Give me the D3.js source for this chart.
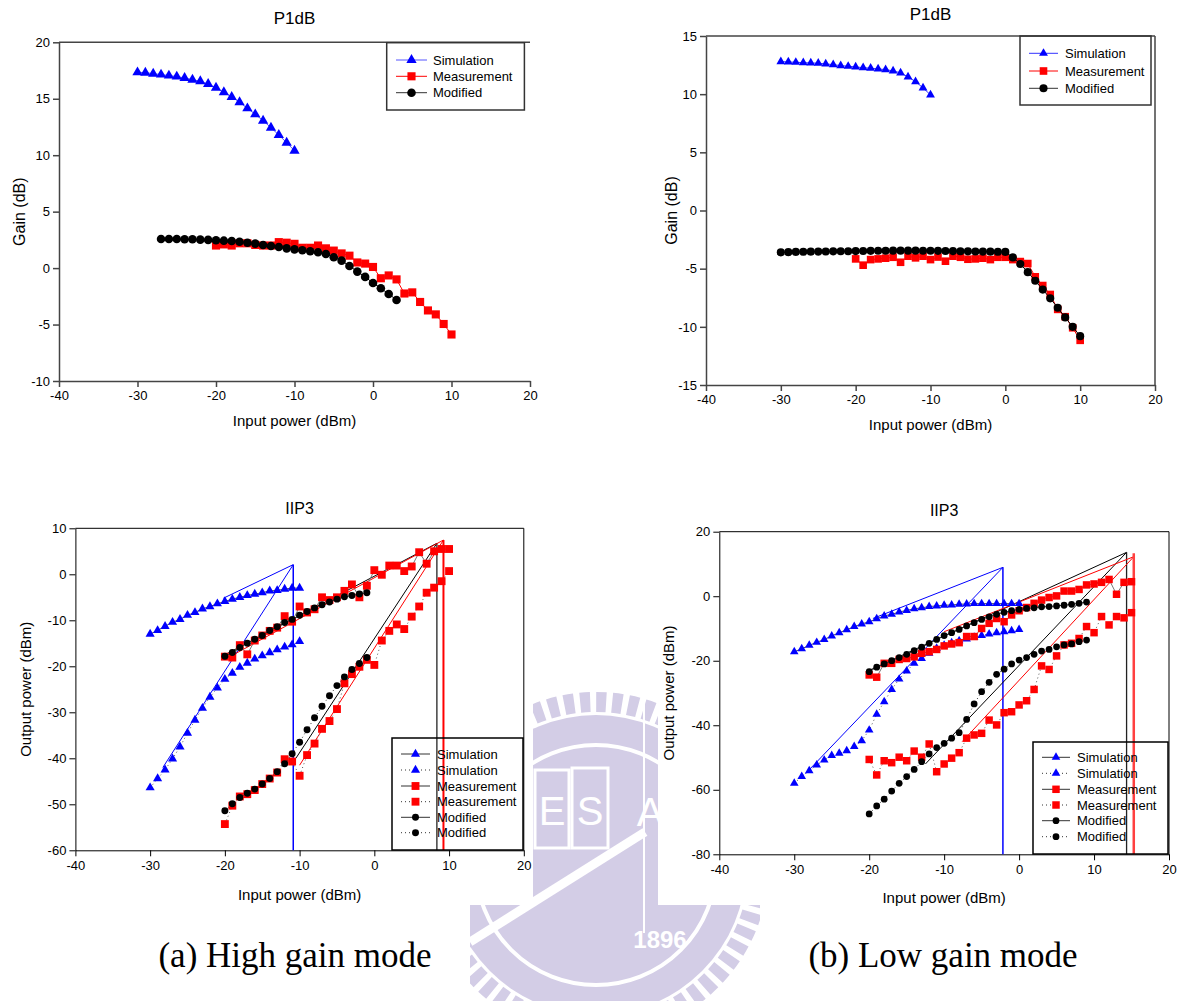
<!DOCTYPE html>
<html>
<head>
<meta charset="utf-8">
<script src="https://cdn.jsdelivr.net/npm/d3@7"></script>
<style>
  body { margin: 0; background: #fff; }
</style>
</head>
<body>
<svg id="fig" width="1183" height="1001"></svg>
<script>
// ---- tick values
var xTicks = [-40, -30, -20, -10, 0, 10, 20];
var gainTicksHigh = [-10, -5, 0, 5, 10, 15, 20];
var gainTicksLow = [-15, -10, -5, 0, 5, 10, 15];
var outTicksHigh = [-60, -50, -40, -30, -20, -10, 0, 10];
var outTicksLow = [-80, -60, -40, -20, 0, 20];

// ---- (a) high gain, P1dB : input power (dBm) / gain (dB)
var hgP1SimIn = [-30, -29, -28, -27, -26, -25, -24, -23, -22, -21, -20, -19, -18, -17, -16, -15, -14, -13, -12, -11, -10];
var hgP1SimGain = [17.34, 17.31, 17.22, 17.14, 17.05, 16.96, 16.84, 16.69, 16.55, 16.3, 15.98, 15.57, 15.16, 14.69, 14.15, 13.62, 13.06, 12.44, 11.79, 11.11, 10.4];
var hgP1MeasIn = [-20, -19, -18, -17, -16, -15, -14, -13, -12, -11, -10, -9, -8, -7, -6, -5, -4, -3, -2, -1, 0, 1, 2, 3, 4, 5, 6, 7, 8, 9, 10];
var hgP1MeasGain = [2.0, 2.1, 2.0, 2.2, 2.2, 2.05, 2.0, 2.0, 2.3, 2.25, 2.15, 1.8, 1.8, 2.0, 1.75, 1.55, 1.3, 1.1, 0.5, 0.4, 0.1, -0.9, -0.65, -1.0, -2.25, -2.15, -3.0, -3.75, -4.1, -4.95, -5.88];
var hgP1ModIn = [-27, -26, -25, -24, -23, -22, -21, -20, -19, -18, -17, -16, -15, -14, -13, -12, -11, -10, -9, -8, -7, -6, -5, -4, -3, -2, -1, 0, 1, 2, 3];
var hgP1ModGain = [2.58, 2.58, 2.58, 2.55, 2.55, 2.52, 2.5, 2.46, 2.43, 2.4, 2.34, 2.25, 2.17, 2.05, 1.96, 1.87, 1.75, 1.66, 1.58, 1.49, 1.4, 1.25, 0.96, 0.66, 0.19, -0.31, -0.78, -1.32, -1.79, -2.29, -2.82];

// ---- (b) low gain, P1dB
var lgP1SimIn = [-30, -29, -28, -27, -26, -25, -24, -23, -22, -21, -20, -19, -18, -17, -16, -15, -14, -13, -12, -11, -10];
var lgP1SimGain = [12.8, 12.77, 12.74, 12.71, 12.68, 12.66, 12.6, 12.54, 12.45, 12.4, 12.34, 12.28, 12.23, 12.17, 12.11, 12.0, 11.83, 11.48, 11.08, 10.54, 9.94];
var lgP1MeasIn = [-20, -19, -18, -17, -16, -15, -14, -13, -12, -11, -10, -9, -8, -7, -6, -5, -4, -3, -2, -1, 0, 1, 2, 3, 4, 5, 6, 7, 8, 9, 10];
var lgP1MeasGain = [-4.16, -4.7, -4.22, -4.16, -4.1, -4.02, -4.45, -3.93, -4.07, -3.93, -4.22, -4.0, -4.36, -3.93, -4.02, -4.19, -4.16, -4.1, -4.22, -4.02, -4.02, -4.22, -4.39, -4.56, -5.7, -6.45, -7.22, -8.5, -9.13, -10.08, -11.16];
var lgP1ModIn = [-30, -29, -28, -27, -26, -25, -24, -23, -22, -21, -20, -19, -18, -17, -16, -15, -14, -13, -12, -11, -10, -9, -8, -7, -6, -5, -4, -3, -2, -1, 0, 1, 2, 3, 4, 5, 6, 7, 8, 9, 10];
var lgP1ModGain = [-3.6, -3.58, -3.56, -3.55, -3.54, -3.53, -3.52, -3.51, -3.5, -3.5, -3.49, -3.48, -3.47, -3.46, -3.46, -3.45, -3.45, -3.45, -3.45, -3.46, -3.46, -3.47, -3.48, -3.49, -3.5, -3.51, -3.52, -3.53, -3.54, -3.55, -3.56, -4.03, -4.6, -5.3, -6.04, -6.8, -7.55, -8.36, -9.19, -10.0, -10.8];

// ---- (a) high gain, IIP3 : input power / output power (dBm), fundamental and IM3
var hgIpSimIn = [-30, -29, -28, -27, -26, -25, -24, -23, -22, -21, -20, -19, -18, -17, -16, -15, -14, -13, -12, -11, -10];
var hgIpSimFund = [-13.0, -12.2, -11.3, -10.4, -9.8, -8.9, -8.3, -7.5, -7.0, -6.4, -5.9, -5.4, -5.0, -4.6, -4.3, -4.0, -3.6, -3.5, -3.2, -3.0, -3.0];
var hgIpSimIm3 = [-46.4, -44.4, -42.5, -40.1, -37.5, -34.5, -31.7, -29.1, -26.7, -24.7, -22.8, -21.5, -20.2, -19.3, -18.4, -17.7, -17.0, -16.4, -15.8, -15.3, -14.6];
var hgIpMeasIn = [-20, -19, -18, -17, -16, -15, -14, -13, -12, -11, -10, -9, -8, -7, -6, -5, -4, -3, -2, -1, 0, 1, 2, 3, 4, 5, 6, 7, 8, 9, 10];
var hgIpMeasFund = [-17.9, -18.1, -15.4, -17.4, -14.4, -13.3, -12.3, -11.6, -9.1, -10.3, -7.0, -8.3, -7.6, -5.0, -5.6, -5.0, -3.6, -2.2, -5.0, -2.5, 0.9, -0.1, 1.9, 1.9, 0.7, 1.7, 4.8, 2.3, 5.0, 5.5, 5.5];
var hgIpMeasIm3 = [-54.3, -50.3, -48.3, -47.8, -46.9, -45.6, -44.4, -43.1, -40.2, -40.7, -43.8, -39.3, -36.8, -33.6, -31.9, -29.3, -23.7, -21.7, -20.1, -18.6, -19.7, -14.4, -12.3, -10.9, -11.9, -9.2, -7.0, -4.0, -2.9, -1.5, 0.7];
var hgIpModIn = [-20, -19, -18, -17, -16, -15, -14, -13, -12, -11, -10, -9, -8, -7, -6, -5, -4, -3, -2, -1];
var hgIpModFund = [-17.8, -17.0, -15.9, -15.0, -14.1, -13.3, -12.2, -11.4, -10.5, -9.8, -8.9, -8.1, -7.3, -6.6, -6.0, -5.4, -4.9, -4.6, -4.3, -4.0];
var hgIpModIm3 = [-51.4, -49.9, -48.5, -47.6, -46.7, -45.6, -44.4, -42.9, -41.2, -39.0, -36.5, -33.8, -31.2, -28.7, -26.4, -24.2, -22.3, -20.7, -19.4, -18.1];
// extrapolated lines and intercept points
var hgSimFundFit = [[-20.2, -5.2], [-10.85, 2.1]];
var hgSimIm3Fit = [[-28.3, -42.0], [-10.85, 2.1]];
var hgSimIip3 = [[-10.85, 2.1], [-10.85, -60]];
var hgModFundFit = [[-20, -17.5], [8.37, 6.74]];
var hgModIm3Fit = [[-10.5, -40], [8.37, 6.74]];
var hgModIip3 = [[8.37, 6.74], [8.37, -60]];
var hgMeasFundFit = [[-20, -18.5], [9.25, 7.45]];
var hgMeasIm3Fit = [[-10, -41.5], [9.25, 7.45]];
var hgMeasIip3 = [[9.25, 7.45], [9.25, -60]];

// ---- (b) low gain, IIP3
var lgIpSimIn = [-30, -29, -28, -27, -26, -25, -24, -23, -22, -21, -20, -19, -18, -17, -16, -15, -14, -13, -12, -11, -10, -9, -8, -7, -6, -5, -4, -3, -2, -1, 0];
var lgIpSimFund = [-17.2, -16.3, -15.2, -14.3, -13.4, -12.3, -11.3, -10.4, -9.4, -8.6, -7.9, -7.0, -6.1, -5.6, -4.9, -4.4, -3.9, -3.6, -3.2, -3.0, -2.8, -2.7, -2.5, -2.4, -2.3, -2.3, -2.3, -2.3, -2.3, -2.3, -2.3];
var lgIpSimIm3 = [-58.0, -55.9, -54.1, -52.3, -50.8, -49.4, -48.7, -47.9, -46.6, -44.8, -41.5, -36.6, -32.7, -28.9, -25.7, -23.2, -20.8, -19.3, -17.7, -16.1, -15.2, -14.4, -13.8, -13.3, -12.7, -12.2, -11.7, -11.3, -11.0, -10.7, -10.3];
var lgIpMeasIn = [-20, -19, -18, -17, -16, -15, -14, -13, -12, -11, -10, -9, -8, -7, -6, -5, -4, -3, -2, -1, 0, 1, 2, 3, 4, 5, 6, 7, 8, 9, 10, 11, 12, 13, 14, 15];
var lgIpMeasFund = [-24.4, -25.1, -20.8, -20.8, -19.6, -19.3, -18.8, -17.7, -17.2, -16.5, -15.4, -14.8, -14.4, -12.5, -12.5, -10.0, -8.4, -6.9, -7.9, -5.8, -4.5, -3.5, -2.2, -1.2, -0.4, 0.1, 1.6, 1.6, 2.1, 3.5, 3.8, 4.3, 5.2, 0.6, 4.3, 4.5];
var lgIpMeasIm3 = [-50.6, -55.4, -51.0, -51.6, -49.9, -51.0, -48.0, -49.9, -45.8, -54.4, -52.0, -50.2, -48.5, -44.0, -43.0, -42.5, -38.4, -39.9, -36.1, -35.8, -33.7, -32.4, -28.9, -21.6, -22.7, -18.5, -15.1, -14.6, -13.1, -9.4, -11.3, -6.3, -8.9, -6.3, -6.7, -5.1];
var lgIpModIn = [-20, -19, -18, -17, -16, -15, -14, -13, -12, -11, -10, -9, -8, -7, -6, -5, -4, -3, -2, -1, 0, 1, 2, 3, 4, 5, 6, 7, 8, 9];
var lgIpModFund = [-23.4, -22.0, -21.0, -20.0, -19.0, -18.0, -16.9, -15.8, -14.6, -13.4, -12.2, -11.3, -10.3, -9.2, -8.2, -7.2, -6.4, -5.6, -5.0, -4.5, -4.1, -3.8, -3.6, -3.3, -3.2, -3.0, -2.8, -2.5, -2.2, -1.8];
var lgIpModIm3 = [-67.5, -65.0, -62.9, -60.4, -58.0, -55.9, -53.7, -51.3, -48.9, -46.9, -45.6, -44.0, -42.3, -38.2, -33.4, -29.6, -26.7, -24.2, -22.6, -21.0, -19.8, -19.0, -18.0, -17.0, -16.5, -15.7, -15.1, -14.8, -14.1, -13.6];
var lgSimFundFit = [[-19.5, -6.9], [-2.16, 8.95]];
var lgSimIm3Fit = [[-28.5, -55], [-2.16, 8.95]];
var lgSimIip3 = [[-2.16, 8.95], [-2.16, -80]];
var lgModFundFit = [[-20, -23.0], [14.34, 13.6]];
var lgModIm3Fit = [[-12.5, -52], [14.34, 13.6]];
var lgModIip3 = [[14.34, 13.6], [14.34, -80]];
var lgMeasFundFit = [[-10, -11], [15.3, 12.25]];
var lgMeasIm3Fit = [[-7.6, -45.1], [15.3, 12.25]];
var lgMeasIip3 = [[15.3, 13.3], [15.3, -80]];

var seriesNames = ['Simulation', 'Measurement', 'Modified'];
var captions = ['(a) High gain mode', '(b) Low gain mode'];

var FONT = '"Liberation Sans", Arial, sans-serif';
var BLUE = '#0000ff', RED = '#ff0000', BLACK = '#000000';
var svg = d3.select('#fig');

// faint watermark logo behind the plots, only showing in the gaps
function drawWatermark() {
  var lav = '#d3cde6';
  var clip = svg.append('defs').append('clipPath').attr('id', 'wmclip');
  clip.append('rect').attr('x', 533).attr('y', 680).attr('width', 125).attr('height', 230);
  clip.append('rect').attr('x', 470).attr('y', 905).attr('width', 290).attr('height', 96);

  var wm = svg.append('g').attr('clip-path', 'url(#wmclip)');
  wm.append('circle').attr('cx', 596).attr('cy', 865).attr('r', 150).attr('fill', lav);
  wm.append('circle').attr('cx', 596).attr('cy', 865).attr('r', 163)
    .attr('fill', 'none').attr('stroke', lav).attr('stroke-width', 20)
    .attr('stroke-dasharray', '10 6');
  wm.append('circle').attr('cx', 596).attr('cy', 865).attr('r', 120)
    .attr('fill', 'none').attr('stroke', '#fff').attr('stroke-width', 4);
  wm.append('rect').attr('x', 535).attr('y', 770).attr('width', 34).attr('height', 78)
    .attr('fill', 'none').attr('stroke', '#fff').attr('stroke-width', 3);
  wm.append('rect').attr('x', 572).attr('y', 768).attr('width', 36).attr('height', 80)
    .attr('fill', 'none').attr('stroke', '#fff').attr('stroke-width', 3);
  wm.selectAll('text.wm').data([['E', 552, 825], ['S', 590, 825], ['A', 650, 826]])
    .enter().append('text')
      .attr('x', function (d) { return d[1]; })
      .attr('y', function (d) { return d[2]; })
      .attr('text-anchor', 'middle')
      .attr('font-family', FONT).attr('font-size', 40)
      .attr('fill', '#fff')
      .text(function (d) { return d[0]; });
  wm.append('line').attr('x1', 470).attr('y1', 942).attr('x2', 645).attr('y2', 832)
    .attr('stroke', '#fff').attr('stroke-width', 9);
  wm.append('line').attr('x1', 644).attr('y1', 700).attr('x2', 644).attr('y2', 933)
    .attr('stroke', '#fff').attr('stroke-width', 2);
  wm.append('text').attr('x', 660).attr('y', 948).attr('text-anchor', 'middle')
    .attr('font-family', FONT).attr('font-weight', 'bold').attr('font-size', 24)
    .attr('fill', '#fff').text('1896');
}

function makePanel(opt) {
  var x = d3.scaleLinear().domain([-40, 20]).range([opt.left, opt.right]);
  var y = d3.scaleLinear().domain(d3.extent(opt.yTicks)).range([opt.bottom, opt.top]);
  var g = svg.append('g');
  var fmt = function (d) { return String(d); };

  g.append('rect')
    .attr('x', opt.left).attr('y', opt.top)
    .attr('width', opt.right - opt.left).attr('height', opt.bottom - opt.top)
    .attr('fill', '#fff');

  g.append('line')
    .attr('x1', opt.left).attr('x2', opt.right).attr('y1', opt.top).attr('y2', opt.top)
    .attr('stroke', opt.axisColor).attr('stroke-width', opt.axisWidth);
  if (opt.rightLine) {
    g.append('line')
      .attr('x1', opt.right).attr('x2', opt.right).attr('y1', opt.top).attr('y2', opt.bottom)
      .attr('stroke', opt.axisColor).attr('stroke-width', opt.axisWidth);
  }

  var ax = g.append('g')
    .attr('transform', 'translate(0,' + opt.bottom + ')')
    .call(d3.axisBottom(x).tickValues(xTicks).tickFormat(fmt).tickSize(6).tickSizeOuter(0).tickPadding(4));
  var ay = g.append('g')
    .attr('transform', 'translate(' + opt.left + ',0)')
    .call(d3.axisLeft(y).tickValues(opt.yTicks).tickFormat(fmt).tickSize(6).tickSizeOuter(0).tickPadding(3));

  [ax, ay].forEach(function (a) {
    a.attr('font-family', FONT).attr('font-size', 13);
    a.selectAll('path, line').attr('stroke', opt.axisColor).attr('stroke-width', opt.axisWidth);
    a.selectAll('text').attr('fill', '#000');
  });

  g.append('text')
    .attr('x', (opt.left + opt.right) / 2).attr('y', opt.titleY).attr('dy', '0.35em')
    .attr('text-anchor', 'middle').attr('font-family', FONT).attr('font-size', opt.titleSize)
    .text(opt.title);
  g.append('text')
    .attr('x', (opt.left + opt.right) / 2).attr('y', opt.xLabelY).attr('dy', '0.35em')
    .attr('text-anchor', 'middle').attr('font-family', FONT).attr('font-size', 15)
    .text('Input power (dBm)');
  g.append('text')
    .attr('transform', 'translate(' + opt.yLabelX + ',' + ((opt.top + opt.bottom) / 2) + ') rotate(-90)')
    .attr('dy', '0.35em')
    .attr('text-anchor', 'middle').attr('font-family', FONT).attr('font-size', opt.yLabelSize)
    .text(opt.yLabel);

  return { g: g, x: x, y: y };
}

function drawLine(p, pts, color, width, dash) {
  p.g.append('path')
    .datum(pts)
    .attr('d', d3.line().x(function (d) { return p.x(d[0]); }).y(function (d) { return p.y(d[1]); }))
    .attr('fill', 'none')
    .attr('stroke', color)
    .attr('stroke-width', width)
    .attr('stroke-dasharray', dash || null);
}

function drawSeries(p, xs, ys, markColor, lineColor, dash, symbol, size) {
  var pts = xs.map(function (d, i) { return [d, ys[i]]; });
  drawLine(p, pts, lineColor, 1, dash);
  p.g.append('g').selectAll('path')
    .data(pts)
    .enter().append('path')
      .attr('transform', function (d) { return 'translate(' + p.x(d[0]) + ',' + p.y(d[1]) + ')'; })
      .attr('d', d3.symbol().type(symbol).size(size))
      .attr('fill', markColor);
}

function drawLegend(p, box, rows, lineX, textX, entries, boxColor) {
  var g = p.g.append('g');
  g.append('rect')
    .attr('x', box[0]).attr('y', box[1])
    .attr('width', box[2] - box[0]).attr('height', box[3] - box[1])
    .attr('fill', 'none').attr('stroke', boxColor).attr('stroke-width', 1.5);
  entries.forEach(function (e, i) {
    g.append('line')
      .attr('x1', lineX[0]).attr('x2', lineX[1]).attr('y1', rows[i]).attr('y2', rows[i])
      .attr('stroke', e.line).attr('stroke-width', 1)
      .attr('stroke-dasharray', e.dash || null);
    g.append('path')
      .attr('transform', 'translate(' + ((lineX[0] + lineX[1]) / 2) + ',' + rows[i] + ')')
      .attr('d', d3.symbol().type(e.symbol).size(e.size))
      .attr('fill', e.color);
    g.append('text')
      .attr('x', textX).attr('y', rows[i]).attr('dy', '0.35em')
      .attr('font-family', FONT).attr('font-size', 13)
      .text(e.label);
  });
}

drawWatermark();

// ---- panel (a) P1dB
var pA = makePanel({ left: 59, right: 530, top: 42.3, bottom: 381, yTicks: gainTicksHigh,
  title: 'P1dB', titleY: 18, titleSize: 17, yLabel: 'Gain (dB)', yLabelX: 19, yLabelSize: 16,
  xLabelY: 421, rightLine: false, axisColor: '#444', axisWidth: 1.5 });
drawSeries(pA, hgP1SimIn, hgP1SimGain, BLUE, '#5555ff', null, d3.symbolTriangle, 46);
drawSeries(pA, hgP1MeasIn, hgP1MeasGain, RED, RED, null, d3.symbolSquare, 66);
drawSeries(pA, hgP1ModIn, hgP1ModGain, BLACK, BLACK, null, d3.symbolCircle, 58);
drawLegend(pA, [386.7, 42.7, 524.4, 110], [60, 76.3, 92.7], [396, 427], 433, [
  { label: seriesNames[0], color: BLUE, line: '#5555ff', symbol: d3.symbolTriangle, size: 46 },
  { label: seriesNames[1], color: RED, line: RED, symbol: d3.symbolSquare, size: 66 },
  { label: seriesNames[2], color: BLACK, line: '#333', symbol: d3.symbolCircle, size: 58 }
], '#333');

// ---- panel (b) P1dB
var pB = makePanel({ left: 706, right: 1155, top: 36, bottom: 385, yTicks: gainTicksLow,
  title: 'P1dB', titleY: 14, titleSize: 17, yLabel: 'Gain (dB)', yLabelX: 671, yLabelSize: 16,
  xLabelY: 425, rightLine: true, axisColor: '#444', axisWidth: 1.5 });
drawSeries(pB, lgP1SimIn, lgP1SimGain, BLUE, '#3333ff', null, d3.symbolTriangle, 34);
drawSeries(pB, lgP1MeasIn, lgP1MeasGain, RED, RED, null, d3.symbolSquare, 58);
drawSeries(pB, lgP1ModIn, lgP1ModGain, BLACK, BLACK, null, d3.symbolCircle, 52);
drawLegend(pB, [1020, 36, 1151, 105], [53.3, 71, 88.3], [1029, 1058], 1065, [
  { label: seriesNames[0], color: BLUE, line: '#3333ff', symbol: d3.symbolTriangle, size: 34 },
  { label: seriesNames[1], color: RED, line: RED, symbol: d3.symbolSquare, size: 58 },
  { label: seriesNames[2], color: BLACK, line: '#333', symbol: d3.symbolCircle, size: 52 }
], '#333');

// ---- panel (a) IIP3
var pC = makePanel({ left: 75.4, right: 523.8, top: 528.3, bottom: 850.3, yTicks: outTicksHigh,
  title: 'IIP3', titleY: 508, titleSize: 16, yLabel: 'Output power (dBm)', yLabelX: 26, yLabelSize: 15,
  xLabelY: 895, rightLine: true, axisColor: '#000', axisWidth: 1 });
drawLine(pC, hgSimFundFit, BLUE, 1);
drawLine(pC, hgSimIm3Fit, BLUE, 1);
drawLine(pC, hgSimIip3, BLUE, 1.5);
drawLine(pC, hgModFundFit, BLACK, 1);
drawLine(pC, hgModIm3Fit, BLACK, 1);
drawLine(pC, hgModIip3, '#222', 1.3);
drawLine(pC, hgMeasFundFit, RED, 1);
drawLine(pC, hgMeasIm3Fit, RED, 1);
drawLine(pC, hgMeasIip3, RED, 2);
drawSeries(pC, hgIpSimIn, hgIpSimFund, BLUE, '#555', null, d3.symbolTriangle, 36);
drawSeries(pC, hgIpSimIn, hgIpSimIm3, BLUE, '#555', '1,3', d3.symbolTriangle, 36);
drawSeries(pC, hgIpMeasIn, hgIpMeasFund, RED, '#777', null, d3.symbolSquare, 62);
drawSeries(pC, hgIpMeasIn, hgIpMeasIm3, RED, '#555', '1,3', d3.symbolSquare, 62);
drawSeries(pC, hgIpModIn, hgIpModFund, BLACK, '#333', null, d3.symbolCircle, 38);
drawSeries(pC, hgIpModIn, hgIpModIm3, BLACK, '#333', '1,3', d3.symbolCircle, 38);
drawLegend(pC, [392, 738, 523, 850], [754, 770, 786, 801.7, 817.3, 832.7], [401, 430], 437, [
  { label: seriesNames[0], color: BLUE, line: '#333', symbol: d3.symbolTriangle, size: 36 },
  { label: seriesNames[0], color: BLUE, line: '#333', dash: '1,3', symbol: d3.symbolTriangle, size: 36 },
  { label: seriesNames[1], color: RED, line: '#333', symbol: d3.symbolSquare, size: 62 },
  { label: seriesNames[1], color: RED, line: '#333', dash: '1,3', symbol: d3.symbolSquare, size: 62 },
  { label: seriesNames[2], color: BLACK, line: '#333', symbol: d3.symbolCircle, size: 38 },
  { label: seriesNames[2], color: BLACK, line: '#333', dash: '1,3', symbol: d3.symbolCircle, size: 38 }
], '#000');

// ---- panel (b) IIP3
var pD = makePanel({ left: 719.3, right: 1169, top: 531.7, bottom: 854.3, yTicks: outTicksLow,
  title: 'IIP3', titleY: 510, titleSize: 16, yLabel: 'Output power (dBm)', yLabelX: 669, yLabelSize: 15,
  xLabelY: 898, rightLine: true, axisColor: '#000', axisWidth: 1 });
drawLine(pD, lgSimFundFit, BLUE, 1);
drawLine(pD, lgSimIm3Fit, BLUE, 1);
drawLine(pD, lgSimIip3, BLUE, 1.5);
drawLine(pD, lgModFundFit, BLACK, 1);
drawLine(pD, lgModIm3Fit, BLACK, 1);
drawLine(pD, lgModIip3, '#222', 1.3);
drawLine(pD, lgMeasFundFit, RED, 1);
drawLine(pD, lgMeasIm3Fit, RED, 1);
drawLine(pD, lgMeasIip3, '#ff4040', 2.5);
drawSeries(pD, lgIpSimIn, lgIpSimFund, BLUE, '#555', null, d3.symbolTriangle, 32);
drawSeries(pD, lgIpSimIn, lgIpSimIm3, BLUE, '#555', '1,3', d3.symbolTriangle, 32);
drawSeries(pD, lgIpMeasIn, lgIpMeasFund, RED, '#777', null, d3.symbolSquare, 56);
drawSeries(pD, lgIpMeasIn, lgIpMeasIm3, RED, '#555', '1,3', d3.symbolSquare, 56);
drawSeries(pD, lgIpModIn, lgIpModFund, BLACK, '#333', null, d3.symbolCircle, 36);
drawSeries(pD, lgIpModIn, lgIpModIm3, BLACK, '#333', '1,3', d3.symbolCircle, 36);
drawLegend(pD, [1033, 742, 1168, 854], [757.3, 773.3, 789.3, 805, 820.7, 836.7], [1042, 1070], 1077, [
  { label: seriesNames[0], color: BLUE, line: '#333', symbol: d3.symbolTriangle, size: 32 },
  { label: seriesNames[0], color: BLUE, line: '#333', dash: '1,3', symbol: d3.symbolTriangle, size: 32 },
  { label: seriesNames[1], color: RED, line: '#333', symbol: d3.symbolSquare, size: 56 },
  { label: seriesNames[1], color: RED, line: '#333', dash: '1,3', symbol: d3.symbolSquare, size: 56 },
  { label: seriesNames[2], color: BLACK, line: '#333', symbol: d3.symbolCircle, size: 36 },
  { label: seriesNames[2], color: BLACK, line: '#333', dash: '1,3', symbol: d3.symbolCircle, size: 36 }
], '#000');

// ---- captions
svg.selectAll('text.caption')
  .data(captions)
  .enter().append('text')
    .attr('class', 'caption')
    .attr('x', function (d, i) { return i === 0 ? 295 : 943; })
    .attr('y', 967)
    .attr('text-anchor', 'middle')
    .attr('font-family', '"Liberation Serif", "Times New Roman", serif')
    .attr('font-size', 35)
    .text(function (d) { return d; });
</script>
</body>
</html>
